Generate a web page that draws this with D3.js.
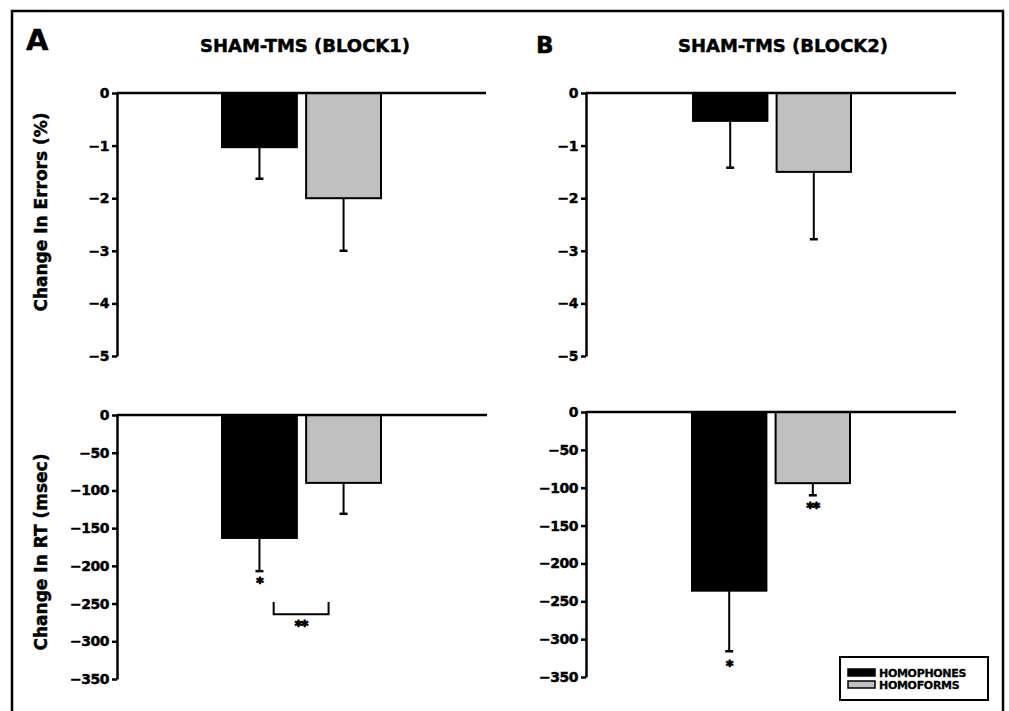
<!DOCTYPE html>
<html>
<head>
<meta charset="utf-8">
<script src="https://cdn.jsdelivr.net/npm/d3@7"></script>
<style>
  body { margin: 0; background: #fff; }
  text { font-family: "DejaVu Sans", "Liberation Sans", Arial, sans-serif; font-weight: bold; fill: #000; stroke: #000; stroke-width: 0.45px; }
</style>
</head>
<body>
<div id="chart"></div>
<script>
// data
const groups = ["HOMOPHONES", "HOMOFORMS"]
const groupFill = ["#000000", "#c0c0c0"]

const errTicks = [0, -1, -2, -3, -4, -5]
const rtTicks = [0, -50, -100, -150, -200, -250, -300, -350]

const errBlock1 = [-1.03, -2.0]
const errBlock1SE = [0.6, 1.0]
const errBlock2 = [-0.53, -1.5]
const errBlock2SE = [0.89, 1.28]

const rtBlock1 = [-163, -90]
const rtBlock1SE = [44, 41]
const rtBlock2 = [-236, -94]
const rtBlock2SE = [80, 16]

const titles = ["SHAM-TMS (BLOCK1)", "SHAM-TMS (BLOCK2)"]
const panelLetters = ["A", "B"]
const yLabels = ["Change In Errors (%)", "Change In RT (msec)"]

// significance marks: panel index, group, value where the mark sits, text
const stars = [
  {panel: 2, group: "HOMOPHONES", value: -218, text: "*"},
  {panel: 2, group: "HOMOFORMS", value: -275, text: "**", bridge: true},
  {panel: 3, group: "HOMOFORMS", value: -122, text: "**"},
  {panel: 3, group: "HOMOPHONES", value: -330, text: "*"}
]

const W = 1009, H = 711

const svg = d3.select("#chart").append("svg")
  .attr("width", W)
  .attr("height", H)

// outer frame (open at the bottom, runs off the page)
svg.append("path")
  .attr("d", "M12,715V11H1003V715")
  .attr("fill", "none")
  .attr("stroke", "#000")
  .attr("stroke-width", 2.5)

// layout of the four panels
const panels = [
  {values: errBlock1, se: errBlock1SE, ticks: errTicks, axisX: 117, endX: 486, top: 93, bottom: 356, bars: [222, 381]},
  {values: errBlock2, se: errBlock2SE, ticks: errTicks, axisX: 586, endX: 956, top: 93, bottom: 356, bars: [693, 851]},
  {values: rtBlock1, se: rtBlock1SE, ticks: rtTicks, axisX: 117, endX: 487, top: 415, bottom: 679, bars: [222, 381]},
  {values: rtBlock2, se: rtBlock2SE, ticks: rtTicks, axisX: 586, endX: 956, top: 412, bottom: 677, bars: [692, 850]}
]

panels.forEach((p, pi) => {
  p.y = d3.scaleLinear()
    .domain([d3.min(p.ticks), 0])
    .range([p.bottom, p.top])
  p.x = d3.scaleBand()
    .domain(groups)
    .range(p.bars)
    .paddingInner(0.11)

  const g = svg.append("g").attr("class", "panel-" + pi)

  // bars
  g.selectAll("rect.bar")
    .data(groups)
    .join("rect")
    .attr("class", "bar")
    .attr("x", d => p.x(d))
    .attr("width", p.x.bandwidth())
    .attr("y", p.y(0))
    .attr("height", (d, i) => p.y(p.values[i]) - p.y(0))
    .attr("fill", (d, i) => groupFill[i])
    .attr("stroke", "#000")
    .attr("stroke-width", 2)

  // one-sided error bars
  const eb = g.selectAll("g.err")
    .data(groups)
    .join("g")
    .attr("class", "err")
    .attr("transform", d => "translate(" + (p.x(d) + p.x.bandwidth() / 2) + ",0)")
  eb.append("line")
    .attr("y1", (d, i) => p.y(p.values[i]))
    .attr("y2", (d, i) => p.y(p.values[i] - p.se[i]))
    .attr("stroke", "#000")
    .attr("stroke-width", 2)
  eb.append("line")
    .attr("x1", -4).attr("x2", 4)
    .attr("y1", (d, i) => p.y(p.values[i] - p.se[i]))
    .attr("y2", (d, i) => p.y(p.values[i] - p.se[i]))
    .attr("stroke", "#000")
    .attr("stroke-width", 2.5)

  // zero line
  g.append("line")
    .attr("x1", p.axisX).attr("x2", p.endX)
    .attr("y1", p.y(0)).attr("y2", p.y(0))
    .attr("stroke", "#000")
    .attr("stroke-width", 2.5)

  // y axis
  const ax = g.append("g")
    .attr("transform", "translate(" + p.axisX + ",0)")
    .call(d3.axisLeft(p.y).tickValues(p.ticks).tickSize(5).tickSizeOuter(0).tickPadding(3)
      .tickFormat(d => d === 0 ? "0" : "\u2212" + Math.abs(d)))
  ax.select(".domain").attr("stroke-width", 2.5)
  ax.selectAll(".tick line").attr("stroke-width", 2.5)
  ax.selectAll(".tick text")
    .attr("font-family", null)
    .attr("font-size", null)
    .style("font-size", "14px")
    .style("letter-spacing", "-0.5px")
})

// column titles and panel letters
const titleX = [305, 783]
svg.selectAll("text.title")
  .data(titles)
  .join("text")
  .attr("class", "title")
  .attr("x", (d, i) => titleX[i])
  .attr("y", 52)
  .attr("text-anchor", "middle")
  .style("font-size", "18px")
  .style("letter-spacing", "0px")
  .text(d => d)

svg.selectAll("text.letter")
  .data(panelLetters)
  .join("text")
  .attr("class", "letter")
  .attr("x", (d, i) => [26, 536][i])
  .attr("y", (d, i) => [50, 53][i])
  .style("font-size", (d, i) => ["29px", "23px"][i])
  .text(d => d)

// y axis titles
const yLabelCy = [212, 552]
svg.selectAll("text.ylab")
  .data(yLabels)
  .join("text")
  .attr("class", "ylab")
  .attr("transform", (d, i) => "translate(47," + yLabelCy[i] + ") rotate(-90)")
  .attr("text-anchor", "middle")
  .style("font-size", "17px")
  .text(d => d)

// significance marks
stars.forEach(s => {
  const p = panels[s.panel]
  let cx = p.x(s.group) + p.x.bandwidth() / 2
  if (s.bridge) {
    // bracket between the two bars
    const x1 = p.x(groups[0]) + p.x.bandwidth() * 0.69
    const x2 = p.x(groups[1]) + p.x.bandwidth() * 0.3
    const yTop = p.y(-248), yBot = p.y(-264)
    svg.append("path")
      .attr("d", "M" + x1 + "," + yTop + "V" + yBot + "H" + x2 + "V" + yTop)
      .attr("fill", "none")
      .attr("stroke", "#000")
      .attr("stroke-width", 2)
    cx = (x1 + x2) / 2
  }
  svg.append("text")
    .attr("x", cx)
    .attr("y", p.y(s.value) + 8)
    .attr("text-anchor", "middle")
    .style("font-size", "14px")
    .style("letter-spacing", "-1px")
    .style("stroke-width", "1px")
    .text(s.text)
})

// legend
const legend = svg.append("g").attr("transform", "translate(840,657)")
legend.append("rect")
  .attr("width", 148).attr("height", 43)
  .attr("fill", "#fff")
  .attr("stroke", "#000")
  .attr("stroke-width", 2)
const li = legend.selectAll("g.item")
  .data(groups)
  .join("g")
  .attr("class", "item")
  .attr("transform", (d, i) => "translate(8," + (12 + i * 12) + ")")
li.append("rect")
  .attr("width", 27).attr("height", 7)
  .attr("fill", (d, i) => groupFill[i])
  .attr("stroke", "#000")
  .attr("stroke-width", 1.5)
li.append("text")
  .attr("x", 31)
  .attr("y", 8)
  .style("font-size", "11px")
  .style("letter-spacing", "-0.3px")
  .style("stroke-width", "0.3px")
  .text(d => d)
</script>
</body>
</html>
